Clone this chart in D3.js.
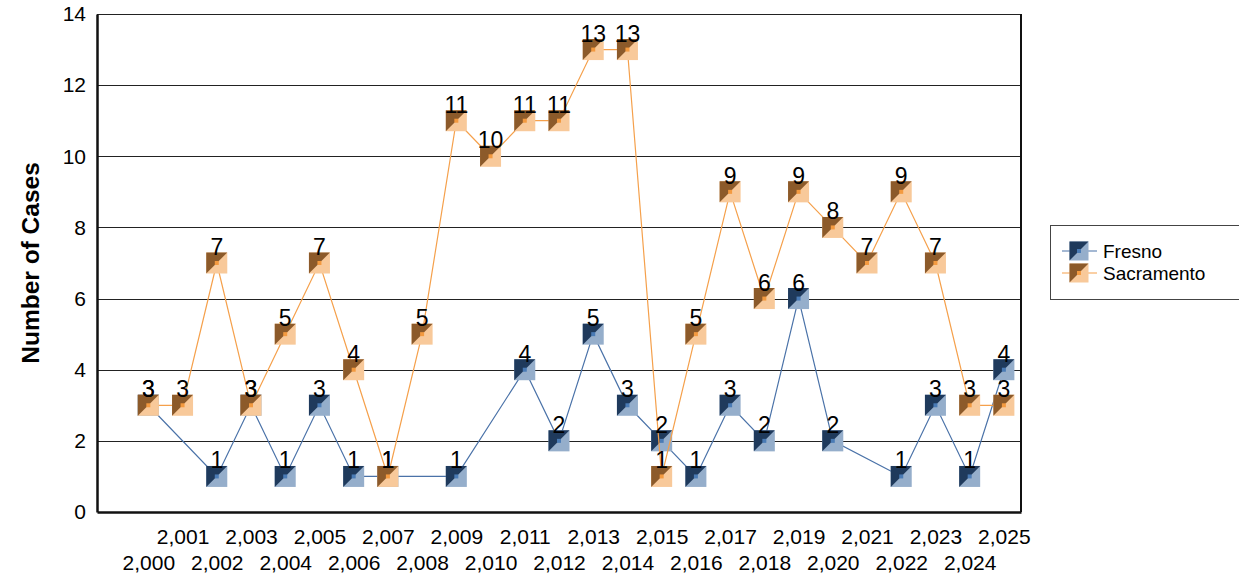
<!DOCTYPE html>
<html><head><meta charset="utf-8">
<script src="https://cdn.jsdelivr.net/npm/d3@7"></script>
<style>body{margin:0;background:#fff;}svg{display:block;font-family:"Liberation Sans",Arial,sans-serif;}</style>
</head><body>
<svg id="c" width="1239" height="577"></svg>
<script>
const years = [2000,2001,2002,2003,2004,2005,2006,2007,2008,2009,2010,2011,2012,2013,2014,2015,2016,2017,2018,2019,2020,2021,2022,2023,2024,2025];
const fresno = [3,null,1,3,1,3,1,1,null,1,null,4,2,5,3,2,1,3,2,6,2,null,1,3,1,4];
const sacramento = [3,3,7,3,5,7,4,1,5,11,10,11,11,13,13,1,5,9,6,9,8,7,9,7,3,3];
const yTicks = [0,2,4,6,8,10,12,14];
const seriesNames = ["Fresno","Sacramento"];

const svg = d3.select("#c");
const L=97,R=1021,T=14,B=512;
const x = d3.scaleLinear().domain([1998.5,2025.5]).range([L,R]);
const y = d3.scaleLinear().domain([0,14]).range([B,T]);
const styles = {
  Fresno:{dark:"#1f3a5c",light:"#95aecb",mid:"#4a7bb5",line:"#4a72a8"},
  Sacramento:{dark:"#8c5a2a",light:"#f8c99a",mid:"#f39a40",line:"#f5a04b"}
};

// gridlines
svg.append("g").selectAll("line").data(yTicks.filter(t=>t>0)).join("line")
  .attr("x1",L).attr("x2",R).attr("y1",d=>Math.round(y(d))+0.5).attr("y2",d=>Math.round(y(d))+0.5)
  .attr("stroke","#222").attr("stroke-width",1);
// frame right
svg.append("line").attr("x1",R).attr("x2",R).attr("y1",T).attr("y2",B).attr("stroke","#111").attr("stroke-width",2);
// axes
const yAxis = d3.axisLeft(y).tickValues(yTicks).tickSize(0).tickPadding(11).tickFormat(d3.format("d"));
const gy = svg.append("g").attr("transform",`translate(${L},0)`).call(yAxis);
gy.select(".domain").attr("stroke","#111").attr("stroke-width",2.5);
gy.selectAll("text").attr("font-size",21).attr("fill","#000").attr("font-family","Liberation Sans, Arial, sans-serif");

const xAxis = d3.axisBottom(x).tickValues(years).tickSize(0).tickFormat(d3.format(","));
const gx = svg.append("g").attr("transform",`translate(0,${B})`).call(xAxis);
gx.select(".domain").attr("stroke","#111").attr("stroke-width",2.5);
gx.selectAll("text").attr("font-size",21).attr("fill","#000").attr("font-family","Liberation Sans, Arial, sans-serif")
  .attr("dy",null)
  .attr("y",(d,i)=> i%2===0 ? 58 : 32);

// y title
svg.append("text").attr("transform","translate(39,263) rotate(-90)").attr("text-anchor","middle")
  .attr("font-size",24.5).attr("font-weight","bold").text("Number of Cases");

function marker(g,cx,cy,s,st){
  const h=s/2;
  g.append("rect").attr("x",cx-h).attr("y",cy-h).attr("width",s).attr("height",s).attr("fill",st.light);
  g.append("path").attr("d",`M${cx-h},${cy-h}L${cx+h},${cy-h}L${cx-h},${cy+h}Z`).attr("fill",st.dark);
  g.append("rect").attr("x",cx-2).attr("y",cy-2).attr("width",4).attr("height",4).attr("fill",st.mid);
}

const data = {Fresno:fresno, Sacramento:sacramento};
const labelG = [];
seriesNames.forEach(name=>{
  const st=styles[name];
  const pts = years.map((yr,i)=>({yr,v:data[name][i]})).filter(d=>d.v!==null);
  const line = d3.line().x(d=>x(d.yr)).y(d=>y(d.v));
  svg.append("path").datum(pts).attr("d",line).attr("fill","none").attr("stroke",st.line).attr("stroke-width",1.2);
  const g = svg.append("g");
  pts.forEach(d=>marker(g,x(d.yr),y(d.v),21,st));
  labelG.push(pts);
});
labelG.forEach(pts=>{
  svg.append("g").selectAll("text").data(pts).join("text")
    .attr("x",d=>x(d.yr)).attr("y",d=>y(d.v)-8).attr("text-anchor","middle")
    .attr("font-size",23).attr("fill","#000").text(d=>d.v);
});

// legend
const lg = svg.append("g");
lg.append("rect").attr("x",1050.5).attr("y",225.5).attr("width",200).attr("height",74).attr("fill","#fff").attr("stroke","#444").attr("stroke-width",1);
seriesNames.forEach((name,i)=>{
  const st=styles[name]; const cy=251+i*22;
  lg.append("line").attr("x1",1062).attr("x2",1097).attr("y1",cy).attr("y2",cy).attr("stroke",st.line).attr("stroke-width",1.2);
  marker(lg,1079,cy,19,st);
  lg.append("text").attr("x",1103).attr("y",cy+7).attr("font-size",19).text(name);
});
</script>
</body></html>
